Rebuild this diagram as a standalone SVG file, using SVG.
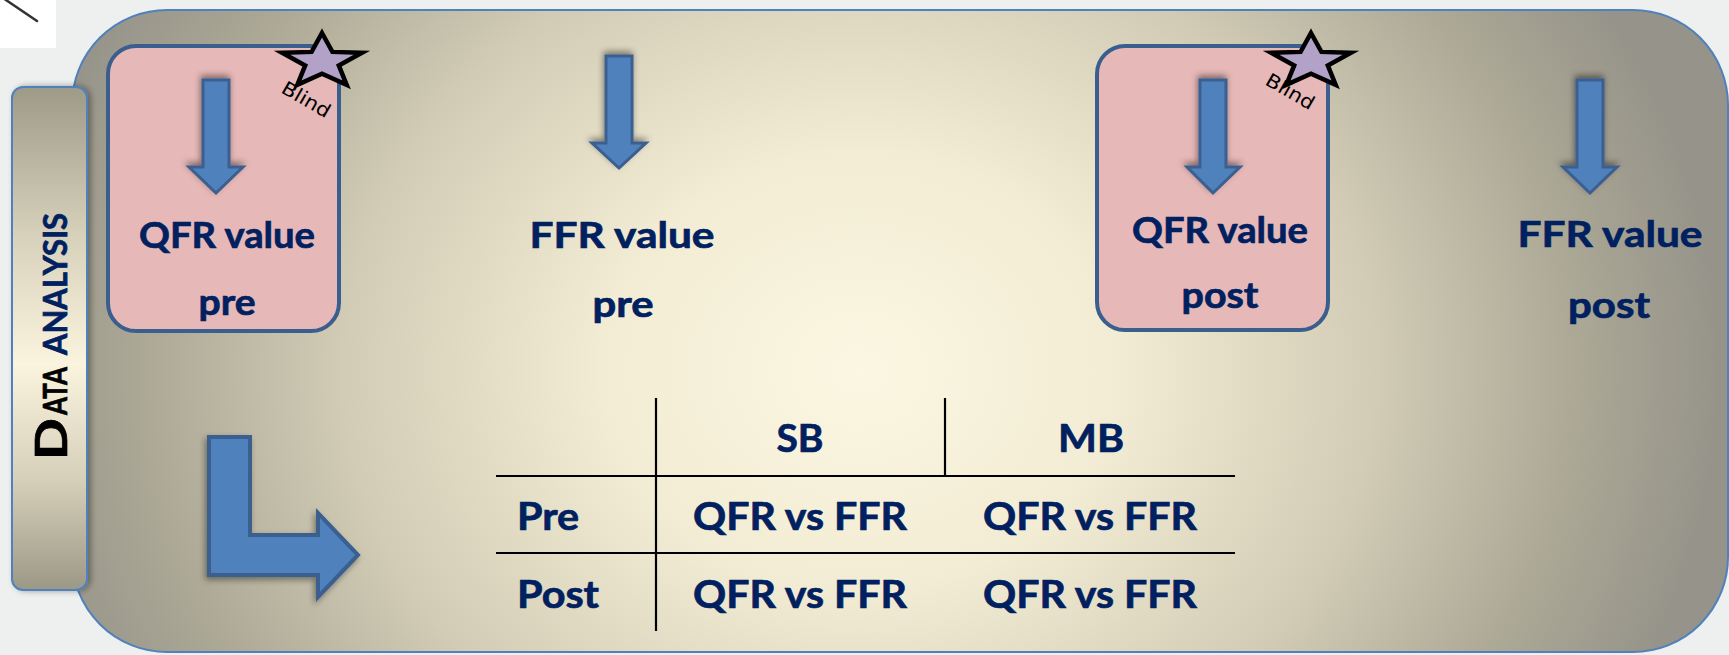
<svg xmlns="http://www.w3.org/2000/svg" width="1729" height="655" viewBox="0 0 1729 655">
<style>
.t{font-family:"Lato","Open Sans","Liberation Sans",sans-serif;font-weight:bold;fill:#002060;stroke:#002060;stroke-width:0.7;}
.top{font-size:37px;text-anchor:middle;}
.tab{font-size:39px;}
.mid{text-anchor:middle;}
.blind{font-family:"DejaVu Sans","Liberation Sans",sans-serif;font-size:19px;fill:#000;text-anchor:middle;}
.box{fill:#e6b8b7;stroke:#3a5f8f;stroke-width:4;}
.arr{fill:#4f81bd;stroke:#3a5f8f;stroke-width:3;stroke-linejoin:miter;filter:url(#sh);}
.star{fill:#b3a2c7;stroke:#000;stroke-width:4.5;stroke-linejoin:miter;}
.grid{stroke:#000;stroke-width:2.2;fill:none;}
</style>
<defs>
<radialGradient id="bg" gradientUnits="userSpaceOnUse" cx="860" cy="370" r="860" gradientTransform="translate(860 370) scale(1 0.85) translate(-860 -370)">
<stop offset="0" stop-color="#fcf7e2"/>
<stop offset="0.3" stop-color="#f2ecd4"/>
<stop offset="0.6" stop-color="#d2ccb6"/>
<stop offset="0.82" stop-color="#aeaa97"/>
<stop offset="1" stop-color="#96938a"/>
</radialGradient>
<linearGradient id="tabg" x1="0" y1="0" x2="0" y2="1">
<stop offset="0" stop-color="#9e9a88"/>
<stop offset="0.3" stop-color="#d8d2bc"/>
<stop offset="0.55" stop-color="#faf4de"/>
<stop offset="0.78" stop-color="#d6d0ba"/>
<stop offset="1" stop-color="#9c9886"/>
</linearGradient>
<filter id="sh" x="-30%" y="-30%" width="160%" height="160%">
<feDropShadow dx="-1" dy="-3" stdDeviation="3" flood-color="#000" flood-opacity="0.45"/>
</filter>
<filter id="sh2" x="-30%" y="-30%" width="160%" height="160%">
<feDropShadow dx="-2" dy="3" stdDeviation="3" flood-color="#000" flood-opacity="0.4"/>
</filter>
<filter id="tsh" x="-30%" y="-10%" width="160%" height="120%">
<feDropShadow dx="3" dy="0" stdDeviation="3" flood-color="#000" flood-opacity="0.35"/>
</filter>
<path id="starp" d="M0,-28.7 L10.4,-9.8 L39.9,-8.9 L16.8,3.7 L24.7,23.2 L0,12.1 L-24.7,23.2 L-16.8,3.7 L-39.9,-8.9 L-10.4,-9.8 Z"/>
</defs>

<rect x="0" y="0" width="1729" height="655" fill="#eeefef"/>
<rect x="0" y="0" width="56" height="48" fill="#ffffff"/>
<line x1="3" y1="-2" x2="37" y2="21" stroke="#333" stroke-width="2.5" stroke-linecap="round"/>

<g id="panel">
<rect x="72" y="10" width="1656" height="642" rx="95" ry="95" fill="url(#bg)" stroke="#4f81bd" stroke-width="2"/>
</g>

<g id="tab">
<rect x="12" y="87" width="75" height="503" rx="11" ry="11" fill="url(#tabg)" stroke="#4f81bd" stroke-width="2" filter="url(#tsh)"/>
<g transform="translate(67,460) rotate(-90)">
<text class="t" x="0" y="0" font-size="44" style="fill:#000;stroke:#000" textLength="42" lengthAdjust="spacingAndGlyphs">D</text>
<text class="t" x="45" y="0" font-size="33" style="fill:#000;stroke:#000" textLength="48" lengthAdjust="spacingAndGlyphs">ATA</text>
<text class="t" x="105" y="0" font-size="33" textLength="142" lengthAdjust="spacingAndGlyphs">ANALYSIS</text>
</g>
</g>

<g id="qfr-pre">
<rect class="box" x="108" y="46" width="231" height="285" rx="28" ry="28"/>
<text class="t top" x="227" y="248" textLength="176" lengthAdjust="spacingAndGlyphs">QFR value</text>
<text class="t top" x="227" y="315" textLength="57" lengthAdjust="spacingAndGlyphs">pre</text>
<use href="#starp" class="star" transform="translate(322,61.7)"/>
<text class="blind" transform="translate(306,100) rotate(30)" x="0" y="6" textLength="53" lengthAdjust="spacingAndGlyphs">Blind</text>
</g>

<g id="ffr-pre">
<text class="t top" x="622" y="248" textLength="185" lengthAdjust="spacingAndGlyphs">FFR value</text>
<text class="t top" x="623" y="317" textLength="61" lengthAdjust="spacingAndGlyphs">pre</text>
</g>

<g id="qfr-post">
<rect class="box" x="1097" y="46" width="231" height="284" rx="28" ry="28"/>
<text class="t top" x="1220" y="243" textLength="176" lengthAdjust="spacingAndGlyphs">QFR value</text>
<text class="t top" x="1220" y="308" textLength="77" lengthAdjust="spacingAndGlyphs">post</text>
<use href="#starp" class="star" transform="translate(1311,61.7)"/>
<text class="blind" transform="translate(1290,92) rotate(30)" x="0" y="6" textLength="53" lengthAdjust="spacingAndGlyphs">Blind</text>
</g>

<g id="ffr-post">
<text class="t top" x="1610" y="247" textLength="185" lengthAdjust="spacingAndGlyphs">FFR value</text>
<text class="t top" x="1609" y="318" textLength="82" lengthAdjust="spacingAndGlyphs">post</text>
</g>

<g id="connectors">
<path class="arr" d="M203,80 H229 V167 H243 L216,193 L189,167 H203 Z"/>
<path class="arr" d="M606,56 H632 V143 H646 L619,168 L592,143 H606 Z"/>
<path class="arr" d="M1200,80 H1226 V167 H1240 L1213,193 L1187,167 H1200 Z"/>
<path class="arr" d="M1577,80 H1603 V167 H1617 L1590,193 L1563,167 H1577 Z"/>
<path class="arr" style="filter:url(#sh2);stroke-width:4" d="M209,437 H250 V535 H318 V513 L358,555 L318,597 V575 H209 Z"/>
</g>

<g id="table">
<line class="grid" x1="656" y1="398" x2="656" y2="631"/>
<line class="grid" x1="945" y1="398" x2="945" y2="477"/>
<line class="grid" x1="496" y1="476" x2="1235" y2="476"/>
<line class="grid" x1="496" y1="553" x2="1235" y2="553"/>
<text class="t tab mid" x="800" y="452" textLength="47" lengthAdjust="spacingAndGlyphs">SB</text>
<text class="t tab mid" x="1091" y="452" textLength="66" lengthAdjust="spacingAndGlyphs">MB</text>
<text class="t tab" x="517" y="530" textLength="62" lengthAdjust="spacingAndGlyphs">Pre</text>
<text class="t tab" x="517" y="608" textLength="82" lengthAdjust="spacingAndGlyphs">Post</text>
<text class="t tab mid" x="800" y="530" textLength="214" lengthAdjust="spacingAndGlyphs">QFR vs FFR</text>
<text class="t tab mid" x="1090" y="530" textLength="214" lengthAdjust="spacingAndGlyphs">QFR vs FFR</text>
<text class="t tab mid" x="800" y="608" textLength="214" lengthAdjust="spacingAndGlyphs">QFR vs FFR</text>
<text class="t tab mid" x="1090" y="608" textLength="214" lengthAdjust="spacingAndGlyphs">QFR vs FFR</text>
</g>
</svg>
